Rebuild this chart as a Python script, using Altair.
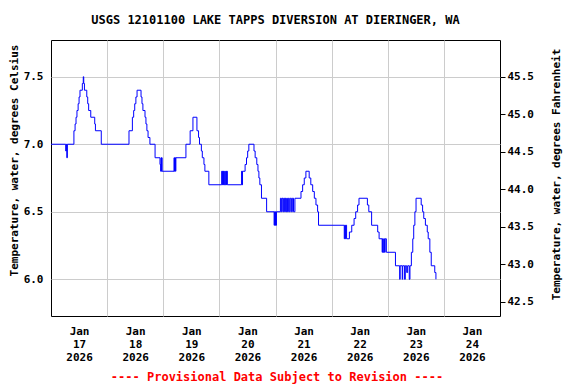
import altair as alt
import pandas as pd

title_text = "USGS 12101100 LAKE TAPPS DIVERSION AT DIERINGER, WA"
footer_text = "---- Provisional Data Subject to Revision ----"
left_title = "Temperature, water, degrees Celsius"
right_title = "Temperature, water, degrees Fahrenheit"

# hours since 2026-01-17 00:00, water temperature (deg C), step values
hours = [
    0, 6.3, 6.55, 6.75, 7.0, 9.8, 10.3, 10.7, 11.1, 11.6, 12.0, 12.4, 13.4, 13.8,
    14.0, 14.3, 15.3, 15.7, 16.1, 17.0, 18.7, 19.0, 21.5,
    33.35, 34.8, 35.35, 35.8, 36.3, 36.8, 38.5, 38.9, 39.3, 40.2, 40.6, 41.0, 41.5,
    42.3, 44.5, 46.6, 46.9, 47.05, 47.2, 47.35, 47.5,
    52.6, 52.8, 53.0, 53.2, 53.4, 57.7, 59.5, 60.7, 62.4, 63.1, 63.5, 64.3, 64.7,
    65.4, 65.8, 67.5,
    73.0, 73.2, 73.4, 73.6, 73.8, 74.0, 74.3, 74.5, 74.8, 75.0, 75.2, 75.4,
    81.5, 81.7, 81.9, 83.0, 83.6, 84.1, 84.6, 86.8, 87.3, 88.0, 88.5, 88.9, 89.3,
    90.0, 92.2,
    95.4, 95.6, 95.8, 96.0, 96.2, 96.4,
    98.1, 98.5, 98.8, 99.2, 99.5, 99.9, 100.2, 100.5, 100.8, 101.1, 101.5, 101.9,
    102.3, 102.8, 103.2, 103.7, 104.3, 106.9, 107.6, 108.3, 109.0, 110.4, 111.1,
    111.9, 112.6, 113.3, 114.0, 114.4,
    125.4, 125.6, 125.9, 126.1, 126.4, 127.6, 128.6, 129.6, 130.3, 131.1, 131.7,
    135.3, 135.9, 137.1, 139.7, 140.3,
    141.6, 141.8, 142.0, 142.3, 142.6, 142.9, 143.4, 147.3,
    149.1, 149.3, 150.2, 150.4, 151.2, 151.5, 152.1, 152.5, 153.2, 153.5,
    154.1, 154.7, 155.1, 155.6, 156.1, 158.3, 158.9, 159.4, 160.1, 160.9, 161.3,
    162.0, 162.6, 164.1, 164.6,
]
temps_c = [
    7.0, 6.95, 7.0, 6.9, 7.0, 7.1, 7.15, 7.2, 7.25, 7.3, 7.35, 7.4, 7.45, 7.5,
    7.45, 7.4, 7.35, 7.3, 7.25, 7.2, 7.15, 7.1, 7.0,
    7.1, 7.2, 7.25, 7.3, 7.35, 7.4, 7.35, 7.3, 7.25, 7.2, 7.15, 7.1, 7.05,
    7.0, 6.9, 6.85, 6.8, 6.9, 6.8, 6.9, 6.8,
    6.9, 6.8, 6.9, 6.8, 6.9, 7.0, 7.1, 7.2, 7.1, 7.05, 7.0, 6.95, 6.9,
    6.85, 6.8, 6.7,
    6.8, 6.7, 6.8, 6.7, 6.8, 6.7, 6.8, 6.7, 6.8, 6.7, 6.8, 6.7,
    6.8, 6.7, 6.8, 6.85, 6.9, 6.95, 7.0, 6.95, 6.9, 6.85, 6.8, 6.75, 6.7,
    6.6, 6.5,
    6.4, 6.5, 6.4, 6.5, 6.4, 6.5,
    6.6, 6.5, 6.6, 6.5, 6.6, 6.5, 6.6, 6.5, 6.6, 6.5, 6.6, 6.5,
    6.6, 6.5, 6.6, 6.5, 6.6, 6.65, 6.7, 6.75, 6.8, 6.75, 6.7,
    6.65, 6.6, 6.55, 6.5, 6.4,
    6.3, 6.4, 6.3, 6.4, 6.3, 6.35, 6.4, 6.45, 6.5, 6.55, 6.6,
    6.55, 6.5, 6.4, 6.35, 6.3,
    6.2, 6.3, 6.2, 6.3, 6.2, 6.3, 6.2, 6.1,
    6.0, 6.1, 6.0, 6.1, 6.0, 6.1, 6.05, 6.1, 6.0, 6.1,
    6.2, 6.3, 6.4, 6.5, 6.6, 6.55, 6.5, 6.45, 6.4, 6.35, 6.3,
    6.2, 6.1, 6.05, 6.0,
]

day_labels = ["17", "18", "19", "20", "21", "22", "23", "24"]
label_hours = [12, 36, 60, 84, 108, 132, 156, 180]
grid_hours = [24, 48, 72, 96, 120, 144, 168]
c_ticks = [6.0, 6.5, 7.0, 7.5]
f_ticks = [42.5, 43.0, 43.5, 44.0, 44.5, 45.0, 45.5]
c_domain = [5.728, 7.772]
f_domain = [c * 1.8 + 32 for c in c_domain]

W, H = 449, 276
FONT = "DejaVu Sans Mono"

df = pd.DataFrame({"h": hours, "c": temps_c})
df["f"] = df["c"] * 1.8 + 32

x_scale = alt.Scale(domain=[0, 192], nice=False, zero=False)

label_expr = "['Jan', " + str(day_labels) + "[floor(datum.value / 24)], '2026']"

right_layer = alt.Chart(df).mark_line(strokeOpacity=0).encode(
    x=alt.X("h:Q", scale=x_scale,
            axis=alt.Axis(orient="top", values=grid_hours, grid=True, gridColor="#cccccc",
                          gridWidth=1, labels=False, ticks=False, domain=False, title=None)),
    y=alt.Y("f:Q", scale=alt.Scale(domain=f_domain, nice=False, zero=False),
            axis=alt.Axis(orient="right", values=f_ticks, format=".1f", grid=False,
                          ticks=True, tickSize=5, tickColor="black", domain=False,
                          labelPadding=2, title=right_title, titleAngle=270,
                          titleX=56, titleY=134, titleBaseline="middle")),
)

line = alt.Chart(df).mark_line(color="#0000ff", strokeWidth=1, interpolate="step-after").encode(
    x=alt.X("h:Q", scale=x_scale,
            axis=alt.Axis(orient="bottom", values=label_hours, labelExpr=label_expr,
                          grid=False, ticks=False, tickSize=0, domain=False,
                          labelPadding=9, labelLineHeight=13, labelBaseline="top",
                          title=None)),
    y=alt.Y("c:Q", scale=alt.Scale(domain=c_domain, nice=False, zero=False),
            axis=alt.Axis(orient="left", values=c_ticks, format=".1f", grid=True,
                          gridColor="#cccccc", gridWidth=1, ticks=False, tickSize=0,
                          domain=False, labelPadding=8, title=left_title, titleAngle=270,
                          titleX=-37, titleY=120, titleBaseline="middle")),
)

footer = alt.Chart(pd.DataFrame({"t": [footer_text]})).mark_text(
    font=FONT, fontSize=12, fontWeight="bold", color="#ff0000",
    align="center", baseline="middle",
).encode(text="t:N", x=alt.value(226), y=alt.value(337))

chart = alt.layer(right_layer, line, footer).resolve_scale(
    y="independent"
).resolve_axis(
    x="independent", y="independent"
).properties(
    width=W, height=H,
    title=alt.Title(title_text, font=FONT, fontSize=12, fontWeight="bold",
                    anchor="middle", offset=13, color="black"),
    autosize=alt.AutoSizeParams(type="none"),
    padding={"left": 43, "top": 32, "right": 68, "bottom": 68},
).configure_view(
    stroke="black", strokeWidth=1
).configure_axis(
    labelFont=FONT, labelFontSize=11, labelFontWeight="bold", labelColor="black",
    titleFont=FONT, titleFontSize=11, titleFontWeight="bold", titleColor="black",
)

chart.save("out.html", embed_options={"renderer": "svg", "actions": False})
